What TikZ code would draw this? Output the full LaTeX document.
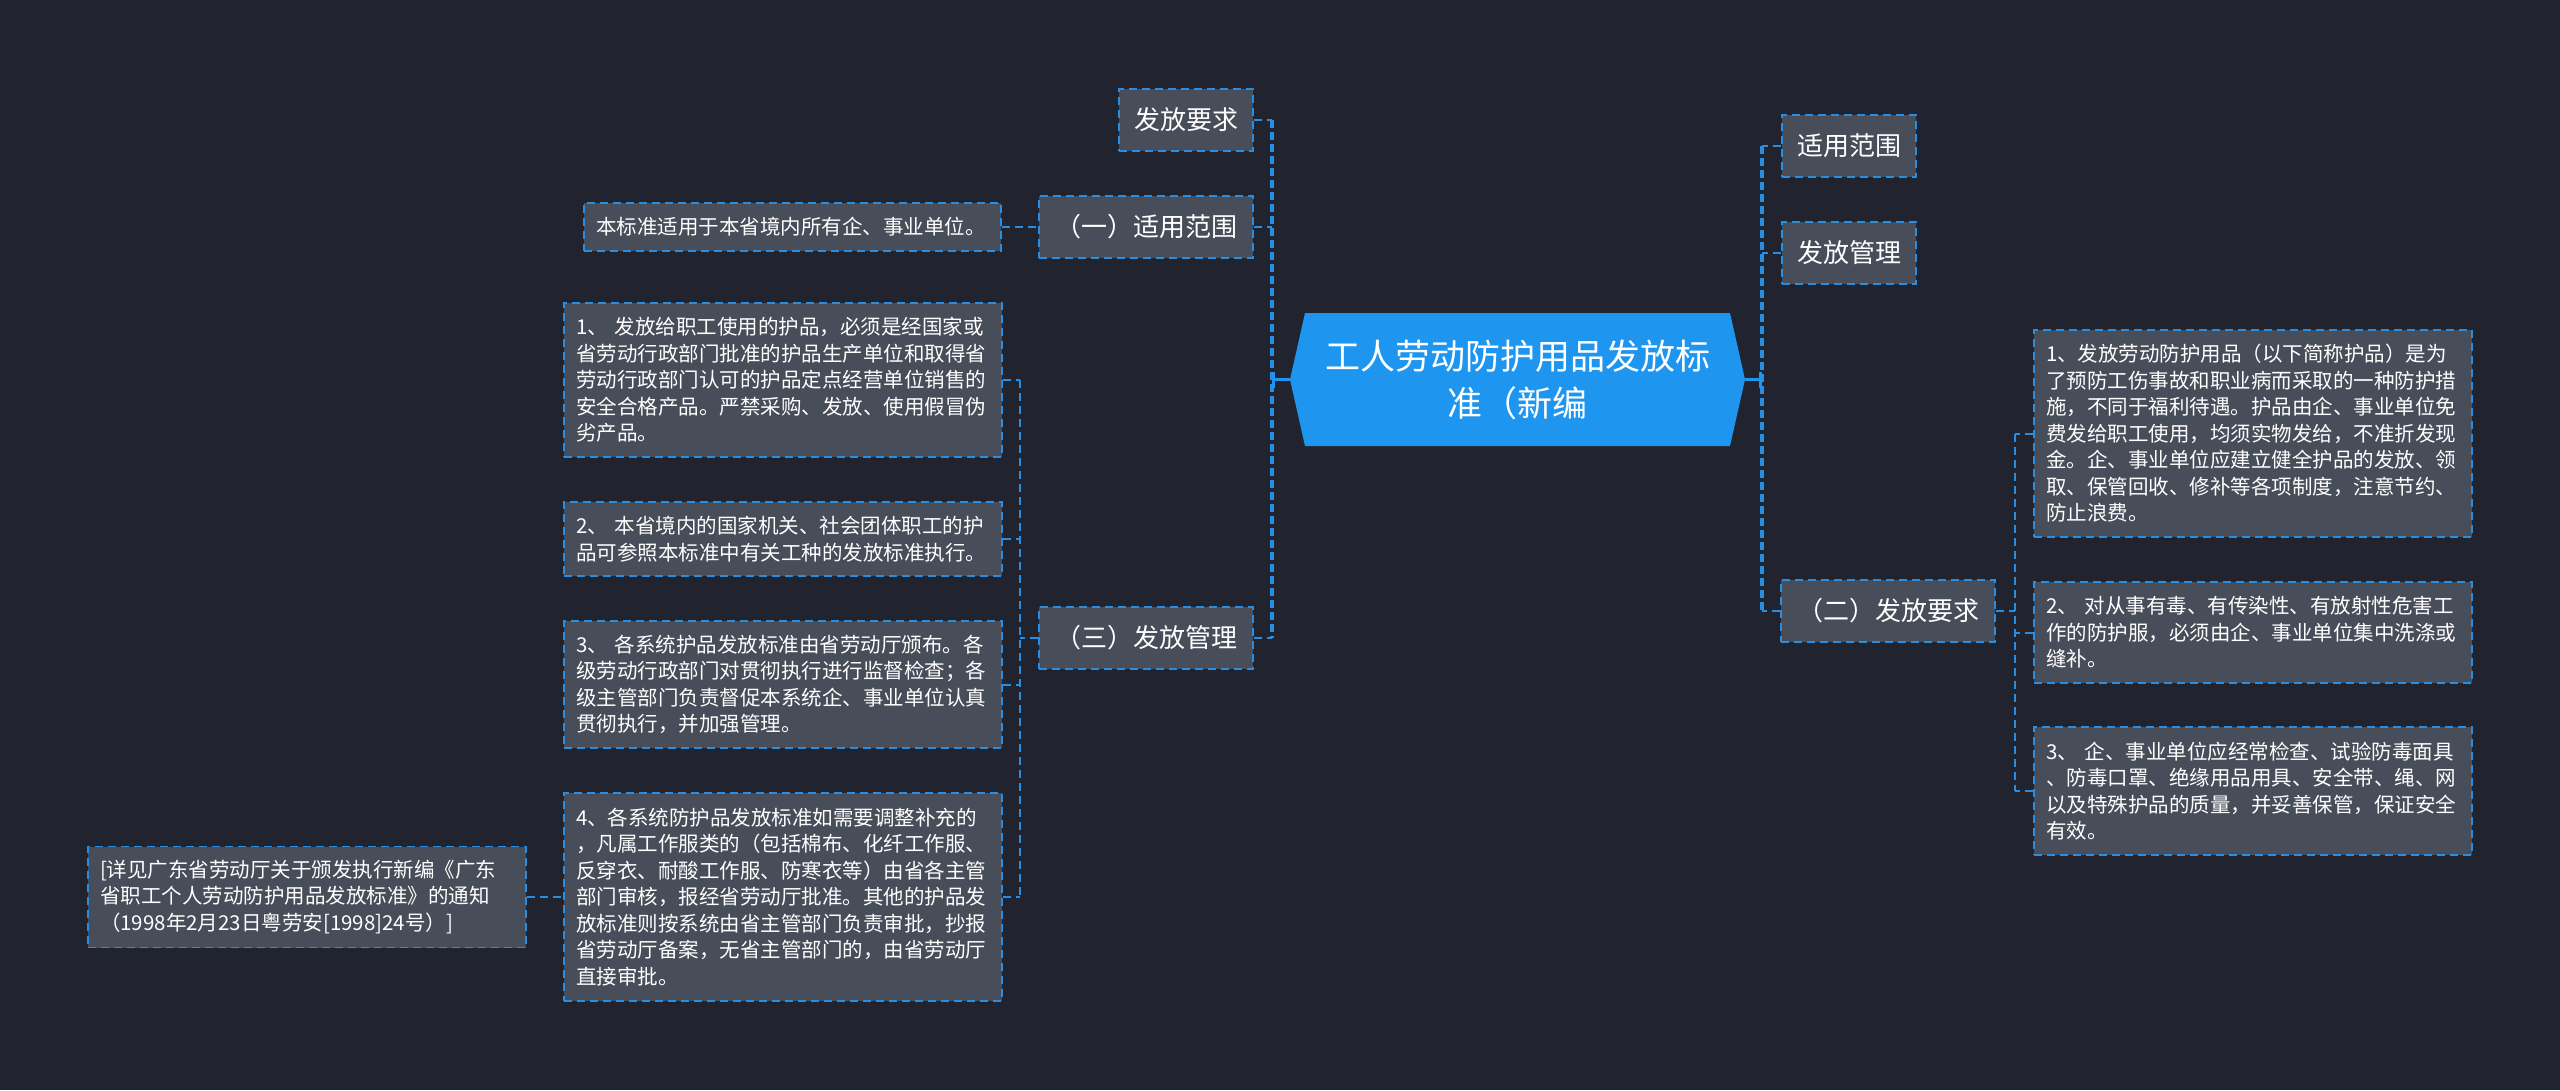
\documentclass[tikz,border=0pt]{standalone}
\usepackage{fontspec}
\setmainfont{Noto Sans CJK SC}
\usetikzlibrary{arrows.meta,positioning,calc}

\definecolor{bgdark}{RGB}{33,36,46}
\definecolor{boxgray}{RGB}{72,77,90}
\definecolor{linkblue}{RGB}{38,143,228}
\definecolor{hubblue}{RGB}{30,150,240}

\begin{document}
\begin{tikzpicture}[
            x=1pt, y=-1pt,
            every node/.style={text=white, inner sep=0pt},
            hub/.style={minimum width=455pt, minimum height=133pt, align=center, font=\fontsize{35pt}{47pt}\selectfont},
            topic/.style={draw=linkblue, fill=boxgray, line width=2pt, dash pattern=on 8pt off 5pt, minimum height=62pt, font=\fontsize{26pt}{30pt}\selectfont},
            leaf/.style={draw=linkblue, fill=boxgray, line width=1.6pt, dash pattern=on 8pt off 5pt, inner xsep=12pt, text width=414pt, align=left, font=\fontsize{20.5pt}{26.5pt}\selectfont},
            link/.style={draw=linkblue, line width=2pt, dash pattern=on 8pt off 5pt},
            trunk/.style={draw=linkblue, line width=3.5pt, dash pattern=on 8pt off 4pt},
            hubline/.style={draw=hubblue, line width=3pt, -{Bar[width=16pt]}}
        ]

% background
            \fill[bgdark] (0,0) rectangle (2560,1090);
            \useasboundingbox (0,0) rectangle (2560,1090);

% central topic
            \fill[hubblue] (1290,379.5) -- (1305,313) -- (1730,313) -- (1745,379.5) -- (1730,446) -- (1305,446) -- cycle;
            \node[hub] (hub) at (1517.5,379.5) {工人劳动防护用品发放标\\准（新编};

% trunk positions
            \coordinate (ltrunk) at (1272,0);
            \coordinate (rtrunk) at (1762,0);
            \coordinate (santrunk) at (1020,0);
            \coordinate (ertrunk) at (2015,0);

% left topics
            \node[topic, minimum width=134pt] (fafang) at (1186,120) {发放要求};
            \node[topic, minimum width=214pt] (yi) at (1146,227) {（一）适用范围};
            \node[topic, minimum width=214pt] (san) at (1146,638) {（三）发放管理};

% left leaves
            \node[leaf, text width=393pt, minimum height=48pt] (yitext) at (792.5,227) {本标准适用于本省境内所有企、事业单位。};
            \node[leaf, minimum height=154pt] (l1) at (783,380) {1、 发放给职工使用的护品，必须是经国家或\\
省劳动行政部门批准的护品生产单位和取得省\\
劳动行政部门认可的护品定点经营单位销售的\\
安全合格产品。严禁采购、发放、使用假冒伪\\
劣产品。};
            \node[leaf, minimum height=74pt] (l2) at (783,539) {2、 本省境内的国家机关、社会团体职工的护\\
品可参照本标准中有关工种的发放标准执行。};
            \node[leaf, minimum height=127pt] (l3) at (783,684.5) {3、 各系统护品发放标准由省劳动厅颁布。各\\
级劳动行政部门对贯彻执行进行监督检查；各\\
级主管部门负责督促本系统企、事业单位认真\\
贯彻执行，并加强管理。};
            \node[leaf, minimum height=208pt] (l4) at (783,897) {4、各系统防护品发放标准如需要调整补充的\\
，凡属工作服类的（包括棉布、化纤工作服、\\
反穿衣、耐酸工作服、防寒衣等）由省各主管\\
部门审核，报经省劳动厅批准。其他的护品发\\
放标准则按系统由省主管部门负责审批，抄报\\
省劳动厅备案，无省主管部门的，由省劳动厅\\
直接审批。};
            \node[leaf, minimum height=101pt] (note) at (307,897) {[详见广东省劳动厅关于颁发执行新编《广东\\
省职工个人劳动防护用品发放标准》的通知\\
（1998年2月23日粤劳安[1998]24号）]};

% right topics
            \node[topic, minimum width=134pt] (shiyong) at (1849,146) {适用范围};
            \node[topic, minimum width=134pt] (guanli) at (1849,253) {发放管理};
            \node[topic, minimum width=214pt] (er) at (1888,611) {（二）发放要求};

% right leaves
            \node[leaf, minimum height=207pt] (r1) at (2253,433.5) {1、发放劳动防护用品（以下简称护品）是为\\
了预防工伤事故和职业病而采取的一种防护措\\
施，不同于福利待遇。护品由企、事业单位免\\
费发给职工使用，均须实物发给，不准折发现\\
金。企、事业单位应建立健全护品的发放、领\\
取、保管回收、修补等各项制度，注意节约、\\
防止浪费。};
            \node[leaf, minimum height=101pt] (r2) at (2253,632.5) {2、 对从事有毒、有传染性、有放射性危害工\\
作的防护服，必须由企、事业单位集中洗涤或\\
缝补。};
            \node[leaf, minimum height=128pt] (r3) at (2253,791) {3、 企、事业单位应经常检查、试验防毒面具\\
、防毒口罩、绝缘用品用具、安全带、绳、网\\
以及特殊护品的质量，并妥善保管，保证安全\\
有效。};

% left connectors
            \draw[trunk] (fafang.east -| ltrunk) -- (san.east -| ltrunk);
            \draw[link] (fafang.east) -- (fafang.east -| ltrunk);
            \draw[link] (yi.east) -- (yi.east -| ltrunk);
            \draw[link] (san.east) -- (san.east -| ltrunk);
            \draw[hubline] (hub.west) -- (hub.west -| ltrunk);
            \draw[link] (yitext.east) -- (yi.west);
            \draw[link, line width=1.6pt] (l1.east -| santrunk) -- (l4.east -| santrunk);
            \draw[link] (l1.east) -- (l1.east -| santrunk);
            \draw[link] (l2.east) -- (l2.east -| santrunk);
            \draw[link] (l3.east) -- (l3.east -| santrunk);
            \draw[link] (l4.east) -- (l4.east -| santrunk);
            \draw[link] (san.west) -- (san.west -| santrunk);
            \draw[link] (note.east) -- (l4.west);

% right connectors
            \draw[trunk] (shiyong.west -| rtrunk) -- (er.west -| rtrunk);
            \draw[link] (shiyong.west) -- (shiyong.west -| rtrunk);
            \draw[link] (guanli.west) -- (guanli.west -| rtrunk);
            \draw[link] (er.west) -- (er.west -| rtrunk);
            \draw[hubline] (hub.east) -- (hub.east -| rtrunk);
            \draw[link, line width=1.6pt] (r1.west -| ertrunk) -- (r3.west -| ertrunk);
            \draw[link] (r1.west) -- (r1.west -| ertrunk);
            \draw[link] (r2.west) -- (r2.west -| ertrunk);
            \draw[link] (r3.west) -- (r3.west -| ertrunk);
            \draw[link] (er.east) -- (er.east -| ertrunk);

        \end{tikzpicture}
\end{document}
